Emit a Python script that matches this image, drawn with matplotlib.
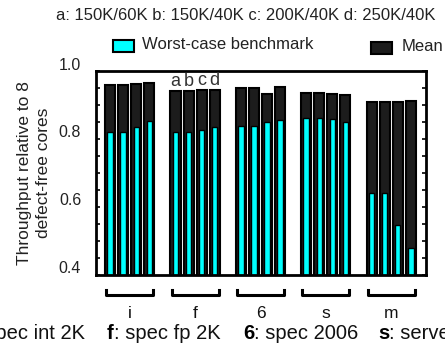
import numpy as np
import matplotlib
matplotlib.use('Agg')
import matplotlib.pyplot as plt
from matplotlib.ticker import MultipleLocator
import matplotlib.transforms as mtransforms

plt.rcParams['font.family'] = ['Liberation Sans', 'DejaVu Sans']

groups = ['i', 'f', '6', 's', 'm']
configs = ['a', 'b', 'c', 'd']
config_desc = 'a: 150K/60K b: 150K/40K c: 200K/40K d: 250K/40K'
mean_vals = [
    [0.960, 0.960, 0.962, 0.965],
    [0.941, 0.941, 0.944, 0.944],
    [0.950, 0.950, 0.934, 0.952],
    [0.937, 0.937, 0.934, 0.931],
    [0.908, 0.908, 0.908, 0.913],
]
worst_vals = [
    [0.820, 0.820, 0.836, 0.853],
    [0.820, 0.820, 0.828, 0.836],
    [0.839, 0.839, 0.849, 0.855],
    [0.861, 0.861, 0.859, 0.849],
    [0.640, 0.640, 0.548, 0.478],
]
footer = [('i', ': spec int 2K'), ('f', ': spec fp 2K'), ('6', ': spec 2006'), ('s', ': server')]

fig = plt.figure(figsize=(4.45, 3.47), dpi=100)
ax = fig.add_axes([0.2157, 0.2075, 0.7413, 0.5875])

pos = []
for g in range(len(groups)):
    for j in range(len(configs)):
        pos.append(g * 5 + j)
pos = np.array(pos)
means = np.array(mean_vals).ravel()
worst = np.array(worst_vals).ravel()

ax.bar(pos, means, width=0.77, color='#1c1c1c', edgecolor='black', linewidth=1.5)
ax.bar(pos, worst, width=0.42, color='#00ffff', edgecolor='black', linewidth=1.0)

ax.set_xlim(-1.08, 24.15)
ax.set_ylim(0.4, 1.0)
ax.yaxis.set_major_locator(MultipleLocator(0.2))
ax.yaxis.set_minor_locator(MultipleLocator(0.05))
ax.set_yticklabels([])
ax.tick_params(axis='y', which='both', direction='in', left=True, right=True, length=3, width=1.2)
ax.set_xticks([])
ytr = mtransforms.blended_transform_factory(ax.transAxes, ax.transData)
for v in [0.4, 0.6, 0.8, 1.0]:
    ax.text(-0.045, v + 0.018, '%.1f' % v, transform=ytr,
            ha='right', va='center', fontsize=11.5, color='#222222', clip_on=False)
for s in ax.spines.values():
    s.set_linewidth(2)

ax.set_ylabel('Throughput relative to 8\ndefect-free cores', fontsize=12.5, color='#222222',
              labelpad=29, linespacing=1.3)

# a b c d labels over the second group
for j, c in enumerate(configs):
    ax.text(pos[4 + j], mean_vals[1][j] + 0.003, c, ha='center', va='bottom', fontsize=13,
            color='#333333', family=['Liberation Sans Narrow', 'Liberation Sans'])

# group brackets and labels
tr = mtransforms.blended_transform_factory(ax.transData, ax.transAxes)
for g, name in enumerate(groups):
    x0 = g * 5 - 0.3
    x1 = g * 5 + 3 + 0.3
    ax.plot([x0, x0, x1, x1], [-0.075, -0.1, -0.1, -0.075], color='black', lw=2.2, transform=tr, clip_on=False)
    ax.text((x0 + x1) / 2, -0.19, name, ha='center', va='center', fontsize=12.5, transform=tr, color='#111111')

# footer text, clipped at the left edge like the original
renderer = fig.canvas.get_renderer()
starts = [None, 107, 243, 378]
first_end = 85
for (key, desc), sx in zip(footer, starts):
    t1 = fig.text(0, 0.04, key, fontsize=14.5, fontweight='bold', va='center', ha='left')
    w1 = t1.get_window_extent(renderer).width
    t2 = fig.text(0, 0.04, desc, fontsize=14.5, va='center', ha='left', color='#111111')
    w2 = t2.get_window_extent(renderer).width
    if sx is None:
        sx = first_end - w1 - w2
    t1.set_x(sx / 445.0)
    t2.set_x((sx + w1) / 445.0)

# top description and legend
fig.text(0.125, 0.955, config_desc, fontsize=12, color='#222222', va='center', ha='left')
fig.patches.append(plt.Rectangle((0.255, 0.85), 0.047, 0.035, transform=fig.transFigure,
                                 facecolor='#00ffff', edgecolor='black', lw=1.5))
fig.text(0.318, 0.873, 'Worst-case benchmark', fontsize=12, va='center', ha='left', color='#222222')
fig.patches.append(plt.Rectangle((0.833, 0.845), 0.047, 0.035, transform=fig.transFigure,
                                 facecolor='#1c1c1c', edgecolor='black', lw=1.5))
fig.text(0.903, 0.865, 'Mean', fontsize=12, va='center', ha='left', color='#222222')

fig.savefig('out.png', dpi=100)
